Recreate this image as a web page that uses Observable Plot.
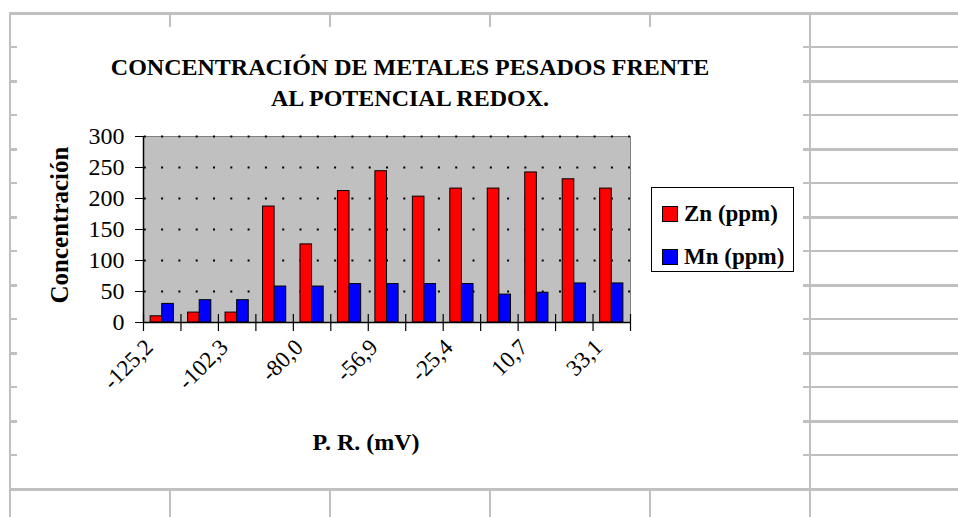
<!DOCTYPE html>
<html>
<head>
<meta charset="utf-8">
<script src="https://cdn.jsdelivr.net/npm/d3@7"></script>
<script src="https://cdn.jsdelivr.net/npm/@observablehq/plot@0.6"></script>
<style>
  html, body { margin: 0; padding: 0; background: #fff; }
  body { width: 958px; height: 517px; position: relative; overflow: hidden; font-family: "Liberation Serif", "Times New Roman", serif; }
  #sheet {
    position: absolute; left: 9px; top: 12px; width: 949px; height: 505px;
    background-image:
      repeating-linear-gradient(to right, #c0c0c0 0 2px, transparent 2px 160px),
      repeating-linear-gradient(to bottom, #c0c0c0 0 3px, transparent 3px 34px, #c0c0c0 34px 36px, transparent 36px 68px);
  }
  #panel { position: absolute; left: 17px; top: 27px; width: 786px; height: 461px; background: #fff; }
  #title { position: absolute; left: 0; top: 25px; width: 786px; text-align: center; font-weight: bold; font-size: 24px; line-height: 31px; color: #000; }
  #ylab { position: absolute; left: 43px; top: 198px; transform: translate(-50%, -50%) rotate(-90deg); font-weight: bold; font-size: 25px; white-space: nowrap; }
  #xlab { position: absolute; left: 349px; top: 415px; transform: translate(-50%, -50%); font-weight: bold; font-size: 24px; white-space: nowrap; }
  #legend { position: absolute; left: 634px; top: 160px; width: 141px; height: 83px; border: 1px solid #000; background: #fff; }
  .item { position: absolute; left: 10px; font-weight: bold; font-size: 23px; line-height: 23px; white-space: nowrap; }
  .sw { display: inline-block; width: 14px; height: 14px; border: 1px solid #000; margin-right: 6px; vertical-align: -1px; }
  #chart { position: absolute; left: 0; top: 0; }
  #chart svg, #chart svg text { font-family: "Liberation Serif", "Times New Roman", serif !important; }
</style>
</head>
<body>
<div id="sheet"></div>
<div id="panel">
  <div id="chart"></div>
  <div id="title">CONCENTRACIÓN DE METALES PESADOS FRENTE<br>AL POTENCIAL REDOX.</div>
  <div id="ylab">Concentración</div>
  <div id="xlab">P. R. (mV)</div>
  <div id="legend"></div>
</div>
<script>
// P. R. (mV) categories (odd ones are hidden in the original; estimated)
const categories = ["-125,2", "-115,0", "-102,3", "-92,4", "-80,0", "-68,5", "-56,9", "-41,0", "-25,4", "-7,3", "10,7", "21,8", "33,1"];
const zn = [10, 16, 16, 187, 126, 212, 244, 203, 216, 216, 242, 231, 216];
const mn = [30, 36, 36, 58, 58, 62, 62, 62, 62, 45, 48, 63, 63];
const seriesNames = ["Zn (ppm)", "Mn (ppm)"];
const seriesColors = ["#ff0000", "#0000ff"];
const yTicks = [0, 50, 100, 150, 200, 250, 300];

const rows = [];
categories.forEach((c, i) => {
  rows.push({i, cat: c, s: 0, v: zn[i]});
  rows.push({i, cat: c, s: 1, v: mn[i]});
});
const labelIdx = categories.map((c, i) => i).filter(i => i % 2 === 0);
const boundaries = d3.range(categories.length + 1);

const plot = Plot.plot({
  width: 786,
  height: 461,
  marginLeft: 126,
  marginRight: 173,
  marginTop: 109,
  marginBottom: 166,
  style: {fontFamily: "Liberation Serif, serif", background: "transparent", color: "#000"},
  x: {type: "linear", domain: [0, categories.length]},
  y: {domain: [0, 300]},
  marks: [
    Plot.frame({fill: "#c0c0c0", stroke: "#808080"}),
    Plot.gridY(yTicks.filter(t => t > 0), {stroke: "#000", strokeOpacity: 1, strokeWidth: 2, strokeDasharray: "2,15.3", strokeDashoffset: 16.5}),
    Plot.rectY(rows, {
      x1: d => d.i + 0.19 + d.s * 0.31,
      x2: d => d.i + 0.5 + d.s * 0.31,
      y1: 0,
      y2: "v",
      fill: d => seriesColors[d.s],
      stroke: "#000",
      strokeWidth: 1
    }),
    Plot.ruleX(boundaries, {x: d => d, y1: 0, y2: 0, insetTop: -8, insetBottom: -9, stroke: "#000", strokeWidth: 1.2}),
    Plot.ruleY([0], {stroke: "#000", strokeWidth: 1.5}),
    Plot.ruleX([0], {stroke: "#000", strokeWidth: 1.5}),
    Plot.axisY(yTicks, {tickSize: 8, tickPadding: 11, fontSize: 24, label: null, stroke: "#000"}),
    Plot.axisX(labelIdx.map(i => i + 0.5), {
      tickSize: 0,
      tickPadding: 21,
      tickRotate: -45,
      fontSize: 23,
      label: null,
      dx: -13,
      tickFormat: d => categories[Math.round(d - 0.5)]
    })
  ]
});
document.getElementById("chart").appendChild(plot);

const legend = document.getElementById("legend");
seriesNames.forEach((name, k) => {
  const it = document.createElement("div");
  it.className = "item";
  it.style.top = (14 + k * 43) + "px";
  const sw = document.createElement("span");
  sw.className = "sw";
  sw.style.background = seriesColors[k];
  it.appendChild(sw);
  it.appendChild(document.createTextNode(name));
  legend.appendChild(it);
});
</script>
</body>
</html>
